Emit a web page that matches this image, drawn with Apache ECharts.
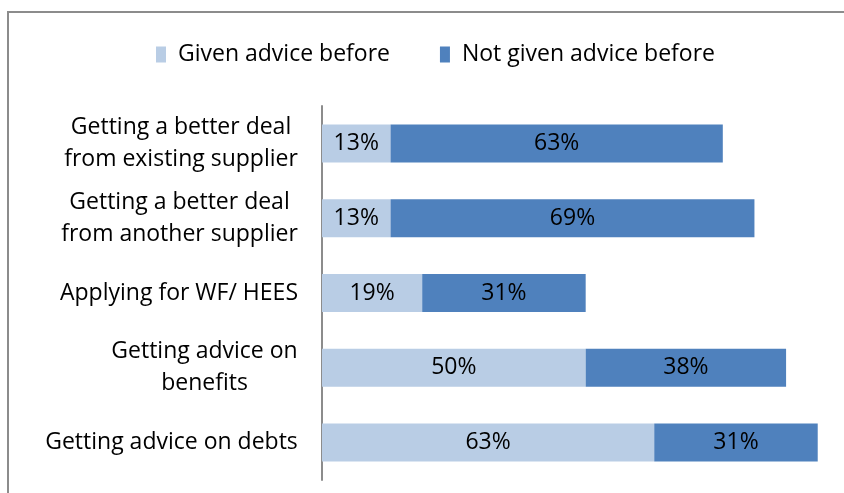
<!DOCTYPE html>
<html>
<head>
<meta charset="utf-8">
<script src="https://cdn.jsdelivr.net/npm/echarts@6/dist/echarts.min.js"></script>
<style>
  html, body { margin: 0; padding: 0; background: #fff; }
  #chart { width: 844px; height: 493px; }
</style>
</head>
<body>
<div id="chart"></div>
<script>
// Activities asked about, top to bottom
const categories = [
  'Getting a better deal\nfrom existing supplier',
  'Getting a better deal\nfrom another supplier',
  'Applying for WF/ HEES',
  'Getting advice on\nbenefits',
  'Getting advice on debts'
];
// Share of respondents (%)
const givenAdvice = [13, 13, 19, 50, 63];
const notGivenAdvice = [63, 69, 31, 38, 31];
const seriesNames = ['Given advice before', 'Not given advice before'];

const FONT = '"Open Sans", "Noto Sans", sans-serif';
const LABEL_SIZE = 23;

// Measure each category label so its lines can be centred within its own block
const ctx = document.createElement('canvas').getContext('2d');
ctx.font = LABEL_SIZE + 'px ' + FONT;
const rich = {};
categories.forEach((name, i) => {
  const w = Math.max(...name.split('\n').map(l => ctx.measureText(l).width));
  rich['c' + i] = {
    width: Math.ceil(w),
    align: 'center',
    fontSize: LABEL_SIZE,
    fontFamily: FONT,
    color: '#000',
    lineHeight: 32
  };
});

const chart = echarts.init(document.getElementById('chart'), null, { renderer: 'canvas' });

const barLabel = {
  show: true,
  position: 'inside',
  formatter: '{c}%',
  fontSize: LABEL_SIZE,
  fontFamily: FONT,
  color: '#000'
};

chart.setOption({
  animation: false,
  backgroundColor: '#fff',
  graphic: [{
    type: 'rect',
    shape: { x: 8, y: 12, width: 900, height: 600 },
    style: { fill: 'none', stroke: '#8c8c8c', lineWidth: 2 },
    silent: true
  }],
  legend: {
    top: 38,
    left: 151,
    itemWidth: 10,
    itemHeight: 16,
    itemGap: 50,
    icon: 'rect',
    textStyle: { fontSize: LABEL_SIZE, fontFamily: FONT, color: '#000', padding: [0, 0, 0, 7] },
    data: seriesNames
  },
  grid: { left: 322, right: 21, top: 106, bottom: 13, containLabel: false },
  xAxis: {
    type: 'value',
    min: 0,
    max: 95,
    show: false
  },
  yAxis: {
    type: 'category',
    inverse: true,
    data: categories,
    axisLine: { show: true, lineStyle: { color: '#8c8c8c', width: 2 } },
    axisTick: { show: false },
    axisLabel: {
      margin: 24,
      formatter: (value, idx) => value.split('\n').map(l => '{c' + idx + '|' + l + '}').join('\n'),
      rich: rich
    }
  },
  series: [
    {
      name: seriesNames[0],
      type: 'bar',
      stack: 'total',
      barWidth: 38,
      data: givenAdvice,
      itemStyle: { color: '#B9CDE5' },
      label: barLabel
    },
    {
      name: seriesNames[1],
      type: 'bar',
      stack: 'total',
      barWidth: 38,
      data: notGivenAdvice,
      itemStyle: { color: '#4F81BD' },
      label: barLabel
    }
  ]
});
</script>
</body>
</html>
